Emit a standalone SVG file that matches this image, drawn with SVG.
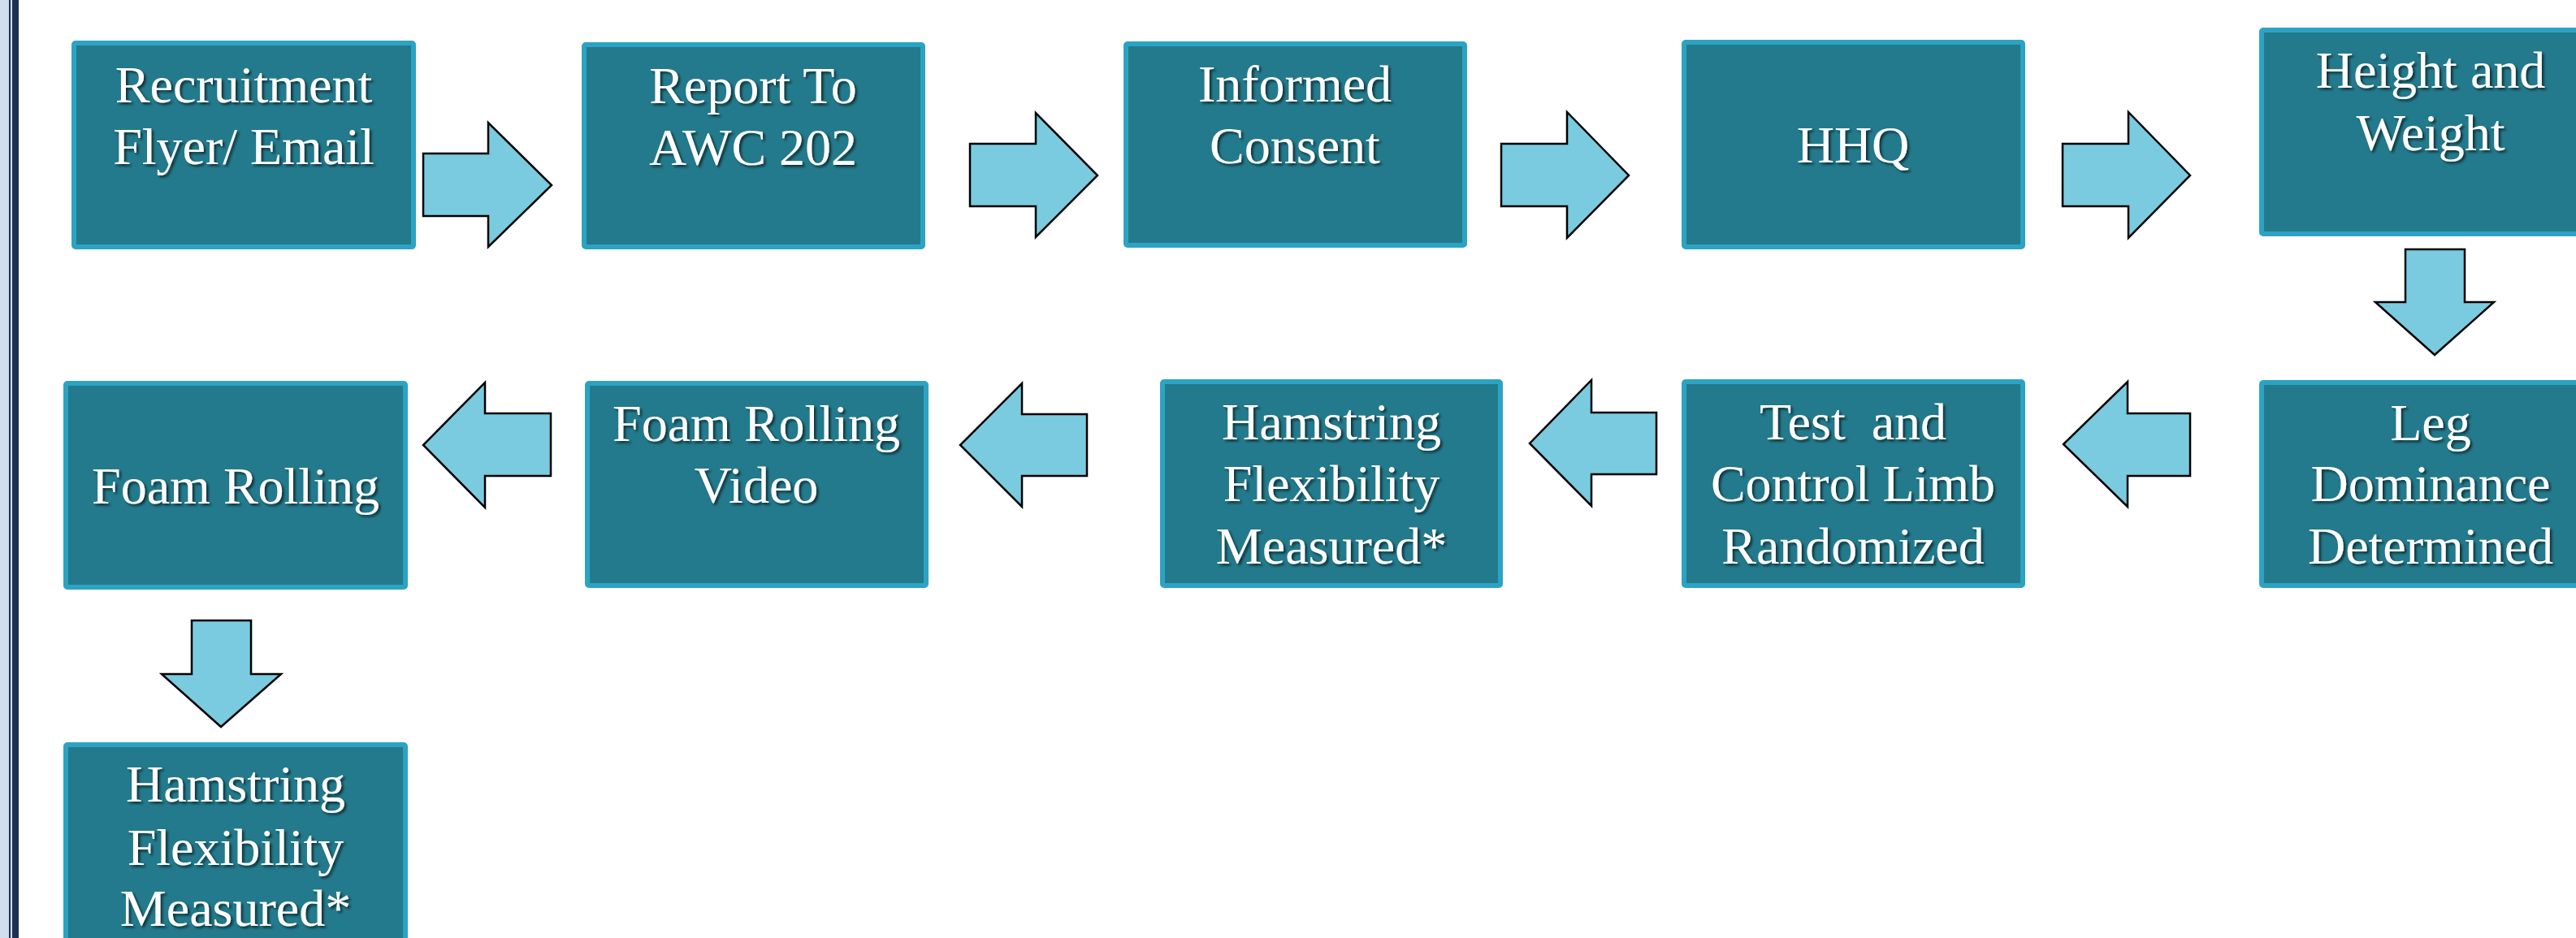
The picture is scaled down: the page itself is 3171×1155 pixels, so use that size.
<svg xmlns="http://www.w3.org/2000/svg" width="3171" height="1155" viewBox="0 0 3171 1155">
<defs>
<style>
.box{fill:#237A8C;stroke:#2CA3C3;stroke-width:6}
.lbl{font-family:"Liberation Serif","Times New Roman",serif;font-size:64px;fill:#FFFFFF;text-anchor:middle;white-space:pre;filter:url(#ts)}
.arr{fill:#7ACBDF;stroke:#000000;stroke-width:2.5;stroke-linejoin:miter}
</style>
<filter id="ts" x="-10%" y="-30%" width="120%" height="160%">
<feDropShadow dx="2.5" dy="2.5" stdDeviation="1.5" flood-color="#000000" flood-opacity="0.6"/>
</filter>
</defs>
<rect x="0" y="0" width="3171" height="1155" fill="#FFFFFF"/>
<g id="border">
<rect x="0" y="0" width="11" height="1155" fill="#D0DDEE"/>
<rect x="11" y="0" width="2" height="1155" fill="#1F3050"/>
<rect x="13" y="0" width="2" height="1155" fill="#D0DDEE"/>
<rect x="15" y="0" width="8" height="1155" fill="#1F3050"/>
</g>
<g id="connectors">
<polygon class="arr" points="521,189 601,189 601,151 679,228 601,304 601,266 521,266"/>
<polygon class="arr" points="1194,177 1275,177 1275,139 1351,216 1275,292 1275,254 1194,254"/>
<polygon class="arr" points="1848,177 1929,177 1929,138 2005,216 1929,293 1929,254 1848,254"/>
<polygon class="arr" points="2539,177 2620,177 2620,138 2696,216 2620,293 2620,254 2539,254"/>
<polygon class="arr" points="2961,307 3034,307 3034,372 3070,372 2997,437 2924,372 2961,372"/>
<polygon class="arr" points="2696,509 2619,509 2619,470 2540,547 2619,624 2619,586 2696,586"/>
<polygon class="arr" points="2039,508 1959,508 1959,468 1883,546 1959,623 1959,584 2039,584"/>
<polygon class="arr" points="1338,510 1258,510 1258,472 1182,548 1258,624 1258,586 1338,586"/>
<polygon class="arr" points="678,509 597,509 597,471 521,548 597,625 597,586 678,586"/>
<polygon class="arr" points="236,764 309,764 309,830 346,830 272,895 199,830 236,830"/>
</g>
<g id="n1">
<rect class="box" x="91" y="53" width="418" height="251" rx="2"/>
<text class="lbl" x="300" y="126">Recruitment</text>
<text class="lbl" x="300" y="202">Flyer/ Email</text>
</g>
<g id="n2">
<rect class="box" x="719" y="55" width="417" height="249" rx="2"/>
<text class="lbl" x="927" y="127">Report To</text>
<text class="lbl" x="927" y="203">AWC 202</text>
</g>
<g id="n3">
<rect class="box" x="1386" y="54" width="417" height="248" rx="2"/>
<text class="lbl" x="1594" y="125">Informed</text>
<text class="lbl" x="1594" y="201">Consent</text>
</g>
<g id="n4">
<rect class="box" x="2073" y="52" width="417" height="252" rx="2"/>
<text class="lbl" x="2281" y="200">HHQ</text>
</g>
<g id="n5">
<rect class="box" x="2784" y="37" width="417" height="251" rx="2"/>
<text class="lbl" x="2992" y="108">Height and</text>
<text class="lbl" x="2992" y="185">Weight</text>
</g>
<g id="n6">
<rect class="box" x="2784" y="471" width="417" height="250" rx="2"/>
<text class="lbl" x="2992" y="542">Leg</text>
<text class="lbl" x="2992" y="617">Dominance</text>
<text class="lbl" x="2992" y="694">Determined</text>
</g>
<g id="n7">
<rect class="box" x="2073" y="470" width="417" height="251" rx="2"/>
<text class="lbl" x="2281" y="541">Test  and</text>
<text class="lbl" x="2281" y="617">Control Limb</text>
<text class="lbl" x="2281" y="694">Randomized</text>
</g>
<g id="n8">
<rect class="box" x="1431" y="470" width="416" height="251" rx="2"/>
<text class="lbl" x="1639" y="541">Hamstring</text>
<text class="lbl" x="1639" y="617">Flexibility</text>
<text class="lbl" x="1639" y="694">Measured*</text>
</g>
<g id="n9">
<rect class="box" x="723" y="472" width="417" height="249" rx="2"/>
<text class="lbl" x="931" y="543">Foam Rolling</text>
<text class="lbl" x="931" y="619">Video</text>
</g>
<g id="n10">
<rect class="box" x="81" y="472" width="418" height="251" rx="2"/>
<text class="lbl" x="290" y="620">Foam Rolling</text>
</g>
<g id="n11">
<rect class="box" x="81" y="917" width="418" height="251" rx="2"/>
<text class="lbl" x="290" y="987">Hamstring</text>
<text class="lbl" x="290" y="1065">Flexibility</text>
<text class="lbl" x="290" y="1140">Measured*</text>
</g>
</svg>
